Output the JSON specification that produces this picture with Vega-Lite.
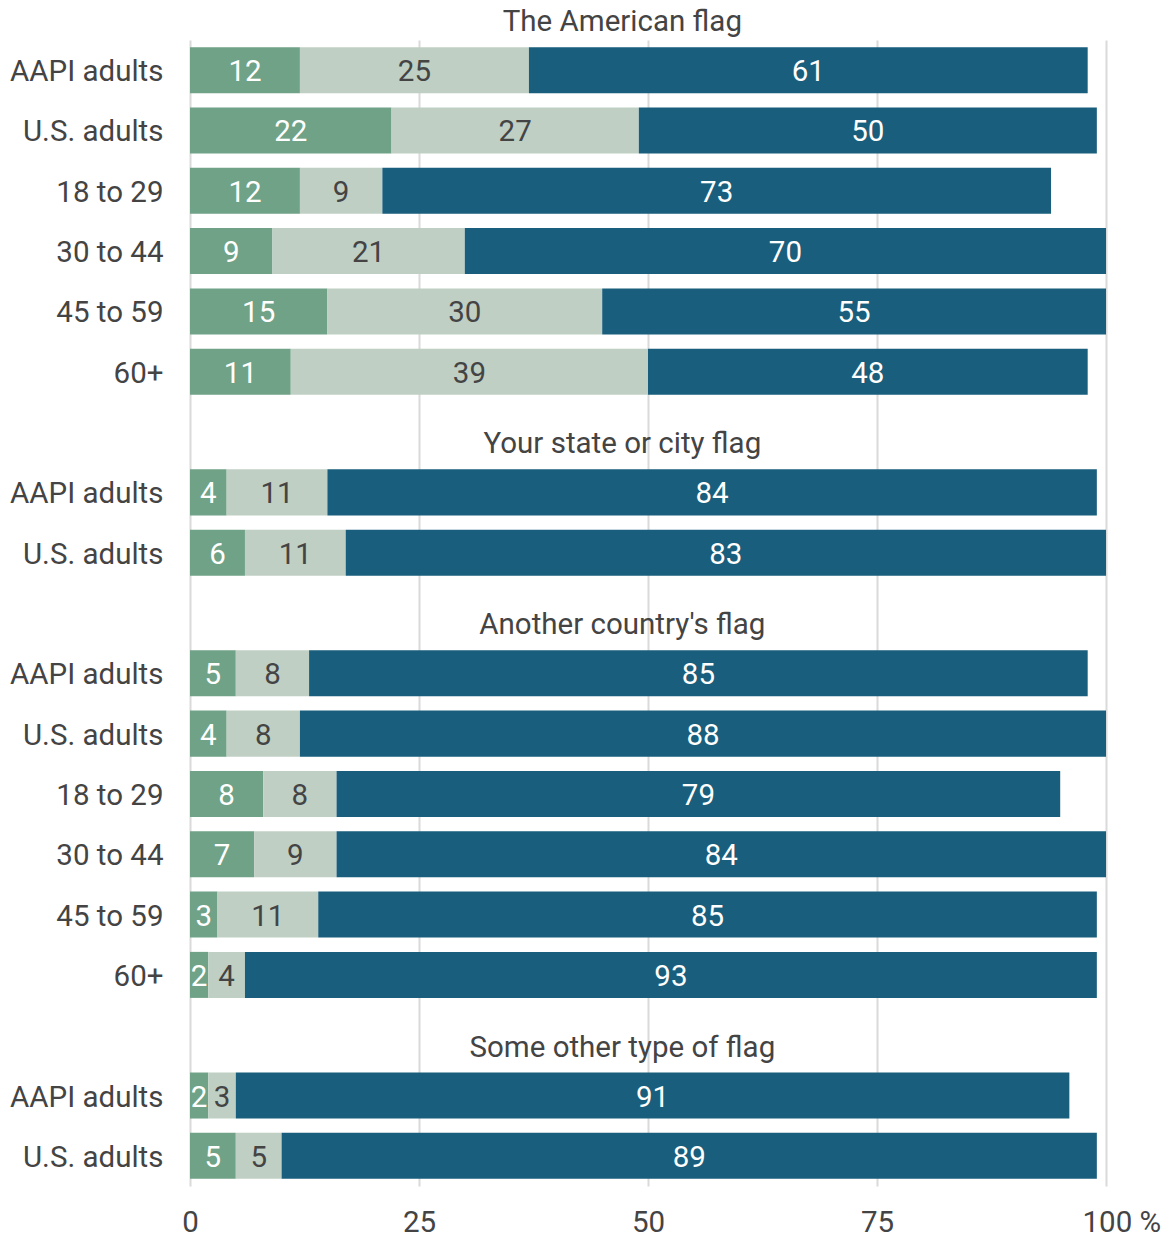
{
  "$schema": "https://vega.github.io/schema/vega-lite/v6.json",
  "autosize": "none",
  "width": 916,
  "height": 1146,
  "padding": {"left": 190, "top": 40, "right": 62, "bottom": 53},
  "background": "white",
  "config": {
    "font": "Roboto",
    "view": {"stroke": null}
  },
  "datasets": {
    "bars": [
      {"slot": "A1|AAPI adults", "cat": "Often", "ord": 1, "val": 12},
      {"slot": "A1|AAPI adults", "cat": "Sometimes", "ord": 2, "val": 25},
      {"slot": "A1|AAPI adults", "cat": "Never", "ord": 3, "val": 61},
      {"slot": "A2|U.S. adults", "cat": "Often", "ord": 1, "val": 22},
      {"slot": "A2|U.S. adults", "cat": "Sometimes", "ord": 2, "val": 27},
      {"slot": "A2|U.S. adults", "cat": "Never", "ord": 3, "val": 50},
      {"slot": "A3|18 to 29", "cat": "Often", "ord": 1, "val": 12},
      {"slot": "A3|18 to 29", "cat": "Sometimes", "ord": 2, "val": 9},
      {"slot": "A3|18 to 29", "cat": "Never", "ord": 3, "val": 73},
      {"slot": "A4|30 to 44", "cat": "Often", "ord": 1, "val": 9},
      {"slot": "A4|30 to 44", "cat": "Sometimes", "ord": 2, "val": 21},
      {"slot": "A4|30 to 44", "cat": "Never", "ord": 3, "val": 70},
      {"slot": "A5|45 to 59", "cat": "Often", "ord": 1, "val": 15},
      {"slot": "A5|45 to 59", "cat": "Sometimes", "ord": 2, "val": 30},
      {"slot": "A5|45 to 59", "cat": "Never", "ord": 3, "val": 55},
      {"slot": "A6|60+", "cat": "Often", "ord": 1, "val": 11},
      {"slot": "A6|60+", "cat": "Sometimes", "ord": 2, "val": 39},
      {"slot": "A6|60+", "cat": "Never", "ord": 3, "val": 48},
      {"slot": "B1|AAPI adults", "cat": "Often", "ord": 1, "val": 4},
      {"slot": "B1|AAPI adults", "cat": "Sometimes", "ord": 2, "val": 11},
      {"slot": "B1|AAPI adults", "cat": "Never", "ord": 3, "val": 84},
      {"slot": "B2|U.S. adults", "cat": "Often", "ord": 1, "val": 6},
      {"slot": "B2|U.S. adults", "cat": "Sometimes", "ord": 2, "val": 11},
      {"slot": "B2|U.S. adults", "cat": "Never", "ord": 3, "val": 83},
      {"slot": "C1|AAPI adults", "cat": "Often", "ord": 1, "val": 5},
      {"slot": "C1|AAPI adults", "cat": "Sometimes", "ord": 2, "val": 8},
      {"slot": "C1|AAPI adults", "cat": "Never", "ord": 3, "val": 85},
      {"slot": "C2|U.S. adults", "cat": "Often", "ord": 1, "val": 4},
      {"slot": "C2|U.S. adults", "cat": "Sometimes", "ord": 2, "val": 8},
      {"slot": "C2|U.S. adults", "cat": "Never", "ord": 3, "val": 88},
      {"slot": "C3|18 to 29", "cat": "Often", "ord": 1, "val": 8},
      {"slot": "C3|18 to 29", "cat": "Sometimes", "ord": 2, "val": 8},
      {"slot": "C3|18 to 29", "cat": "Never", "ord": 3, "val": 79},
      {"slot": "C4|30 to 44", "cat": "Often", "ord": 1, "val": 7},
      {"slot": "C4|30 to 44", "cat": "Sometimes", "ord": 2, "val": 9},
      {"slot": "C4|30 to 44", "cat": "Never", "ord": 3, "val": 84},
      {"slot": "C5|45 to 59", "cat": "Often", "ord": 1, "val": 3},
      {"slot": "C5|45 to 59", "cat": "Sometimes", "ord": 2, "val": 11},
      {"slot": "C5|45 to 59", "cat": "Never", "ord": 3, "val": 85},
      {"slot": "C6|60+", "cat": "Often", "ord": 1, "val": 2},
      {"slot": "C6|60+", "cat": "Sometimes", "ord": 2, "val": 4},
      {"slot": "C6|60+", "cat": "Never", "ord": 3, "val": 93},
      {"slot": "D1|AAPI adults", "cat": "Often", "ord": 1, "val": 2},
      {"slot": "D1|AAPI adults", "cat": "Sometimes", "ord": 2, "val": 3},
      {"slot": "D1|AAPI adults", "cat": "Never", "ord": 3, "val": 91},
      {"slot": "D2|U.S. adults", "cat": "Often", "ord": 1, "val": 5},
      {"slot": "D2|U.S. adults", "cat": "Sometimes", "ord": 2, "val": 5},
      {"slot": "D2|U.S. adults", "cat": "Never", "ord": 3, "val": 89}
    ],
    "titles": [
      {"slot": "A1|AAPI adults", "title": "The American flag"},
      {"slot": "B1|AAPI adults", "title": "Your state or city flag"},
      {"slot": "C1|AAPI adults", "title": "Another country's flag"},
      {"slot": "D1|AAPI adults", "title": "Some other type of flag"}
    ]
  },
  "encoding": {
    "y": {
      "field": "slot",
      "type": "nominal",
      "title": null,
      "scale": {
        "domain": ["A1|AAPI adults", "A2|U.S. adults", "A3|18 to 29", "A4|30 to 44", "A5|45 to 59", "A6|60+", "S0",
                   "B1|AAPI adults", "B2|U.S. adults", "S1",
                   "C1|AAPI adults", "C2|U.S. adults", "C3|18 to 29", "C4|30 to 44", "C5|45 to 59", "C6|60+", "S2",
                   "D1|AAPI adults", "D2|U.S. adults"],
        "paddingInner": 0.237,
        "paddingOuter": 0.1185
      },
      "axis": {
        "labelExpr": "indexof(datum.label, '|') >= 0 ? split(datum.label, '|')[1] : ''",
        "domain": false,
        "ticks": false,
        "grid": false,
        "labelFontSize": 29.5,
        "labelColor": "#444444",
        "labelPadding": 27,
        "labelOffset": 2,
        "labelFont": "Roboto"
      }
    }
  },
  "layer": [
    {
      "data": {"name": "bars"},
      "mark": {"type": "bar"},
      "encoding": {
        "x": {
          "field": "val",
          "type": "quantitative",
          "stack": "zero",
          "title": null,
          "scale": {"domain": [0, 100], "nice": false},
          "axis": {
            "values": [0, 25, 50, 75, 100],
            "labelExpr": "datum.value == 100 ? '100 %' : datum.label",
            "labelAlign": {"condition": {"test": "datum.value == 100", "value": "left"}, "value": "center"},
            "labelOffset": {"condition": {"test": "datum.value == 100", "value": -24}, "value": 0},
            "domain": false,
            "ticks": false,
            "grid": true,
            "gridColor": "#dadada",
            "gridWidth": 2,
            "labelFontSize": 29.5,
            "labelColor": "#444444",
            "labelPadding": 22,
            "labelFont": "Roboto"
          }
        },
        "color": {
          "field": "cat",
          "type": "nominal",
          "legend": null,
          "scale": {
            "domain": ["Often", "Sometimes", "Never"],
            "range": ["#6fa287", "#bfcfc4", "#195e7c"]
          }
        },
        "order": {"field": "ord", "type": "quantitative"}
      }
    },
    {
      "data": {"name": "bars"},
      "mark": {"type": "text", "fontSize": 29.5, "font": "Roboto", "baseline": "middle", "align": "center", "dy": 2},
      "encoding": {
        "x": {"field": "val", "type": "quantitative", "stack": "zero", "bandPosition": 0.5},
        "detail": {"field": "cat", "type": "nominal"},
        "order": {"field": "ord", "type": "quantitative"},
        "text": {"field": "val", "type": "quantitative"},
        "color": {
          "condition": {"test": "datum.cat === 'Sometimes'", "value": "#444444"},
          "value": "#ffffff"
        }
      }
    },
    {
      "data": {"name": "titles"},
      "mark": {"type": "text", "fontSize": 29.5, "font": "Roboto", "color": "#444444", "baseline": "middle", "align": "center", "dy": -48},
      "encoding": {
        "x": {"datum": 47.2, "type": "quantitative"},
        "text": {"field": "title", "type": "nominal"}
      }
    }
  ]
}
